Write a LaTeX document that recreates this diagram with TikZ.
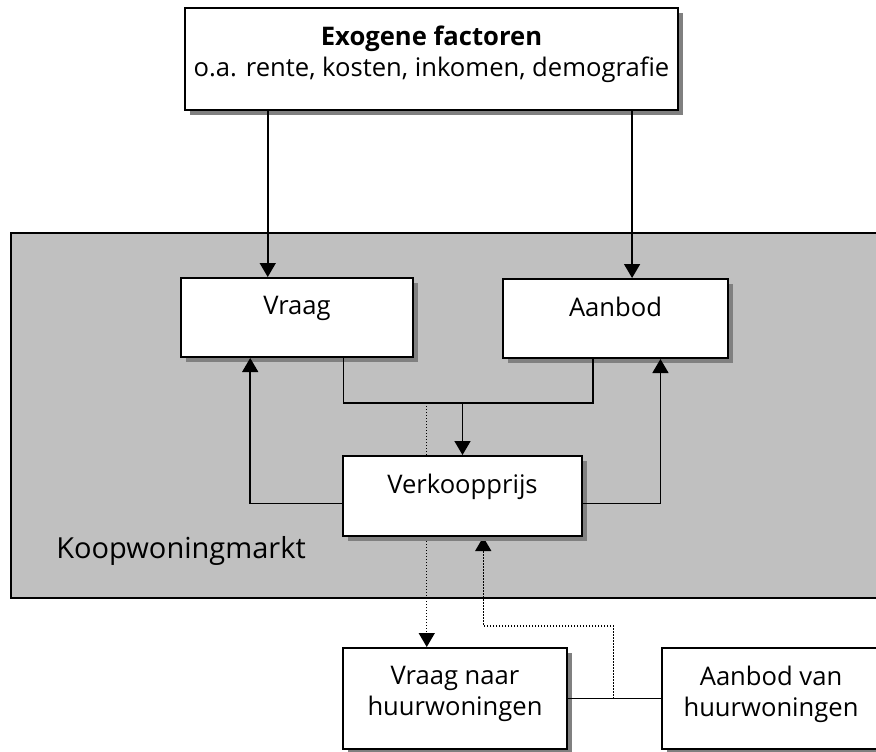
\documentclass[tikz,border=0pt]{standalone}
\usepackage{fontspec}
\setmainfont{Open Sans}
\usetikzlibrary{arrows.meta, positioning, calc, shadows, backgrounds}
\definecolor{marktgray}{RGB}{192, 192, 192}
\definecolor{shadowgray}{RGB}{128, 128, 128}

\begin{document}
\begin{tikzpicture}[x=0.5pt, y=-0.5pt,
    box/.style={draw, fill=white, line width=1pt,
      general shadow={fill=shadowgray, shadow xshift=2.5pt, shadow yshift=-2.5pt}},
    region/.style={draw, fill=marktgray, line width=0.75pt},
    lbl/.style={font=\fontsize{12.8}{15.5}\selectfont, align=center, inner sep=0pt},
    conn/.style={line width=0.75pt},
    arr/.style={conn, -{Triangle[width=8pt, length=7pt]}},
    dots/.style={line width=0.7pt, dash pattern=on 0.7pt off 0.8pt, -{Triangle[width=8pt, length=7pt]}},
  ]
  \useasboundingbox (0,0) rectangle (876,751);

  \node[box, minimum width=246.5pt, minimum height=51pt] (exo) at (431.5,59) {};
  \node[lbl, below=9.5pt of exo.north] (exotxt) {\textbf{Exogene factoren}\\o.a. rente, kosten, inkomen, demografie};

  \node[box, minimum width=116pt, minimum height=39.5pt] (vraag) at (297,317.5) {};
  \node[lbl, below=9.5pt of vraag.north] (vraagtxt) {Vraag};
  \node[box, minimum width=112.5pt, minimum height=39.5pt] (aanbod) at (615.5,318.5) {};
  \node[lbl, below=9.5pt of aanbod.north] (aanbodtxt) {Aanbod};
  \node[box, minimum width=119.5pt, minimum height=40pt] (verk) at (462.5,496) {};
  \node[lbl, below=9.5pt of verk.north] (verktxt) {Verkoopprijs};

  \node[box, minimum width=112pt, minimum height=50.5pt] (vnh) at (455,698.5) {};
  \node[lbl, below=9.5pt of vnh.north] (vnhtxt) {Vraag naar\\huurwoningen};
  \node[box, minimum width=119pt, minimum height=50.5pt] (avh) at (781,698.5) {};
  \node[lbl, below=9.5pt of avh.north, xshift=-5pt] (avhtxt) {Aanbod van\\huurwoningen};

  \node[anchor=base west, inner sep=0pt, font=\fontsize{14.5}{17}\selectfont] (markttxt) at (56,558) {Koopwoningmarkt};

  \coordinate (vin) at ($(vraag.north west)!0.375!(vraag.north east)$);
  \coordinate (ain) at ($(aanbod.north west)!0.573!(aanbod.north east)$);
  \draw[arr] (exo.south -| vin) -- (vin);
  \draw[arr] (exo.south -| ain) -- (ain);

  \coordinate (merge) at ($(verk.north)+(0,-52)$);
  \coordinate (vout) at ($(vraag.south west)!0.698!(vraag.south east)$);
  \coordinate (aout) at ($(aanbod.south west)!0.4!(aanbod.south east)$);
  \draw[conn] (vout) |- (merge) -| (aout);
  \draw[arr] (merge) -- (verk.north);

  \coordinate (vl) at ($(verk.north west)!0.59!(verk.south west)$);
  \coordinate (vr) at ($(verk.north east)!0.59!(verk.south east)$);
  \draw[arr] (vl) -| ($(vraag.south west)!0.3!(vraag.south east)$);
  \draw[arr] (vr) -| ($(aanbod.south west)!0.698!(aanbod.south east)$);

  \draw[conn] (vnh.east) -- (avh.west);

  \begin{scope}[on background layer]
    \node[region, minimum width=444.5pt, minimum height=182.5pt] (markt) at (455.5,415.5) {};
    \coordinate (vnin) at ($(vnh.north west)!0.375!(vnh.north east)$);
    \draw[dots] (merge -| vnin) -- (vnin);
    \coordinate (tap) at ($(vnh.east)!0.49!(avh.west)$);
    \coordinate (vin2) at ($(verk.south west)!0.586!(verk.south east)$);
    \draw[dots] (tap) |- ($(vin2)+(0,89)$) -- (vin2);
  \end{scope}
\end{tikzpicture}
\end{document}
